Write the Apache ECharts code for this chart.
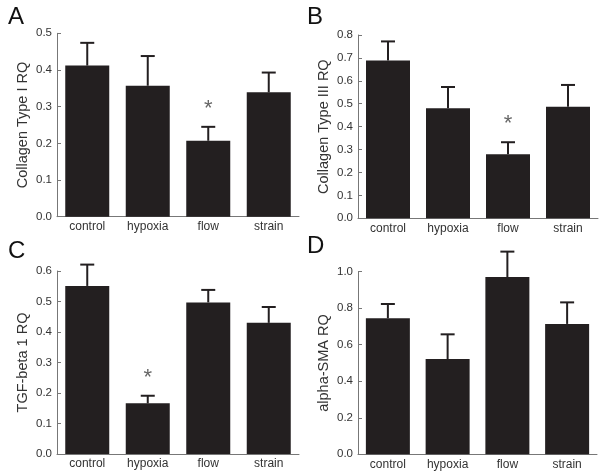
<!DOCTYPE html>
<html><head><meta charset="utf-8">
<script src="https://cdn.jsdelivr.net/npm/echarts@6/dist/echarts.min.js"></script>
<style>html,body{margin:0;padding:0;background:#fff}#c{width:604px;height:475px}</style>
</head><body><div id="c"></div>
<script>
const categories = ['control','hypoxia','flow','strain'];
// Panel A: Collagen Type I RQ
const valuesA = [0.412, 0.357, 0.207, 0.339];
const errorsA = [0.062, 0.081, 0.038, 0.054];
const sigA = [0, 0, 1, 0];
// Panel B: Collagen Type III RQ
const valuesB = [0.689, 0.480, 0.279, 0.487];
const errorsB = [0.083, 0.093, 0.053, 0.095];
const sigB = [0, 0, 1, 0];
// Panel C: TGF-beta 1 RQ
const valuesC = [0.551, 0.166, 0.497, 0.430];
const errorsC = [0.070, 0.025, 0.041, 0.052];
const sigC = [0, 1, 0, 0];
// Panel D: alpha-SMA RQ
const valuesD = [0.745, 0.522, 0.971, 0.714];
const errorsD = [0.078, 0.135, 0.139, 0.118];
const sigD = [0, 0, 0, 0];

const panelLetters = ['A','B','C','D'];
const axisNames = ['Collagen Type I RQ','Collagen Type III RQ','TGF-beta 1 RQ','alpha-SMA RQ'];
const yMax = [0.5, 0.8, 0.6, 1.0];
const yStep = [0.1, 0.1, 0.1, 0.2];

const panels = [
  {v: valuesA, e: errorsA, s: sigA},
  {v: valuesB, e: errorsB, s: sigB},
  {v: valuesC, e: errorsC, s: sigC},
  {v: valuesD, e: errorsD, s: sigD}
];

const grids = [
  {left: 57, top: 33.3, width: 242, height: 183.4},
  {left: 358, top: 35, width: 240, height: 183.3},
  {left: 57, top: 271, width: 242, height: 183},
  {left: 358, top: 271.7, width: 239, height: 182.6}
];
const letterPos = [[8, 5], [307, 5], [8, 239], [307, 234]];

const FONT = 'Liberation Sans';
const BAR = '#231f20';
const AXIS = '#777777';
const TEXT = '#333333';

const xAxes = [], yAxes = [], series = [], graphics = [];
panels.forEach((p, i) => {
  xAxes.push({
    type: 'category', gridIndex: i, data: categories,
    axisLine: {lineStyle: {color: AXIS, width: 1}},
    axisTick: {inside: true, length: 4, lineStyle: {color: AXIS}},
    axisLabel: {color: TEXT, fontFamily: FONT, fontSize: 12, margin: 4}
  });
  yAxes.push({
    type: 'value', gridIndex: i, min: 0, max: yMax[i], interval: yStep[i],
    name: axisNames[i], nameLocation: 'middle', nameGap: 27,
    nameTextStyle: {color: TEXT, fontFamily: FONT, fontSize: 14.5},
    splitLine: {show: false},
    axisLine: {show: true, lineStyle: {color: AXIS, width: 1}},
    axisTick: {show: true, inside: true, length: 4, lineStyle: {color: AXIS}},
    axisLabel: {color: TEXT, fontFamily: FONT, fontSize: 11.5, margin: 5,
      formatter: v => v.toFixed(1)}
  });
  series.push({
    type: 'bar', xAxisIndex: i, yAxisIndex: i, data: p.v,
    barWidth: 44, itemStyle: {color: BAR}, silent: true
  });
  series.push({
    type: 'custom', xAxisIndex: i, yAxisIndex: i, clip: false, silent: true, z: 5,
    data: p.v.map((v, k) => [k, v, p.e[k], p.s[k]]),
    renderItem: (params, api) => {
      const x = api.value(0), v = api.value(1), e = api.value(2), s = api.value(3);
      const base = api.coord([x, v]);
      const top = api.coord([x, v + e]);
      const children = [
        {type: 'line', shape: {x1: base[0], y1: base[1], x2: top[0], y2: top[1]},
         style: {stroke: BAR, lineWidth: 2}},
        {type: 'line', shape: {x1: top[0] - 7, y1: top[1], x2: top[0] + 7, y2: top[1]},
         style: {stroke: BAR, lineWidth: 2}}
      ];
      if (s) {
        children.push({type: 'text', x: top[0], y: top[1] - 18,
          style: {text: '*', fill: '#666', font: '22px ' + FONT, align: 'center', verticalAlign: 'middle'}});
      }
      return {type: 'group', children};
    }
  });
  graphics.push({type: 'text', left: letterPos[i][0], top: letterPos[i][1],
    style: {text: panelLetters[i], fill: '#111', font: '24px ' + FONT}});
});

const chart = echarts.init(document.getElementById('c'), null, {renderer: 'canvas'});
chart.setOption({
  animation: false,
  backgroundColor: '#fff',
  grid: grids.map(g => Object.assign({containLabel: false}, g)),
  xAxis: xAxes, yAxis: yAxes, series, graphic: graphics
});
</script></body></html>
